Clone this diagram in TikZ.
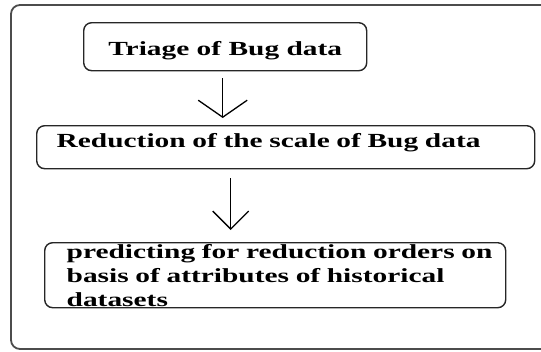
\documentclass[tikz,border=0pt]{standalone}
\usepackage{fontspec}
\usepackage{tikz}
\usetikzlibrary{arrows.meta}
\newfontfamily\boxfont{Liberation Serif}[FakeStretch=1.47]
\tikzstyle{box}=[draw=black!85,line width=1.4pt,rounded corners=8pt,inner ysep=0pt,font=\boxfont\bfseries\fontsize{20}{24}\selectfont]

\begin{document}
\begin{tikzpicture}[x=1pt,y=-1pt]

\tikzstyle{frame}=[draw=black!70,line width=1.8pt,rounded corners=9pt]
\tikzstyle{arrow}=[line width=1.3pt]

\useasboundingbox (0,0) rectangle (541,351);
\clip (0,0) rectangle (541,351);
\draw[frame] (11,5) rectangle (580,349);

\node (A) [box, anchor=north west, minimum width=283pt, text height=33pt, text depth=15pt] at (83,22) {Triage of Bug data};
\node (B) [box, anchor=north west, inner xsep=20pt, text width=458pt, align=left, text height=22pt, text depth=21pt] at (36,125) {Reduction of the scale of Bug data};
\node (C) [box, anchor=north west, inner xsep=22pt, text width=417pt, align=left, text height=16pt, text depth=49pt] at (44,242)
      {\mbox{predicting for reduction orders on}\\
       basis of attributes of historical\\
       datasets};

\draw[arrow, -{Straight Barb[length=17pt,width=49pt]}, shorten <=7pt, shorten >=7pt] ([xshift=-2.5pt]A.south) -- ([xshift=-2.5pt]A.south |- B.north);
\draw[arrow, -{Straight Barb[length=18pt,width=36pt]}, shorten <=9pt, shorten >=12pt] ([xshift=-55pt]B.south) -- ([xshift=-55pt]B.south |- C.north);
\end{tikzpicture}
\end{document}
